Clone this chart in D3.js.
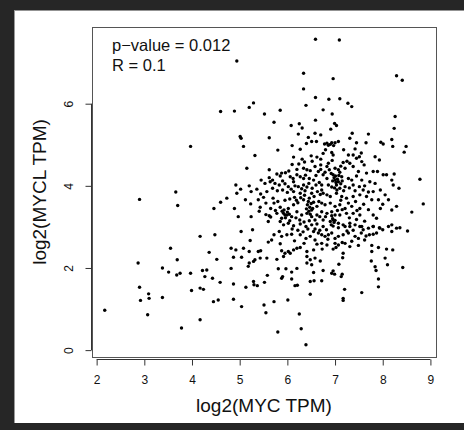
<!DOCTYPE html>
<html>
<head>
<meta charset="utf-8">
<script src="https://cdn.jsdelivr.net/npm/d3@7"></script>
<style>
  body { margin: 0; background: #262626; }
  svg { display: block; font-family: "Liberation Sans", Arial, sans-serif; }
</style>
</head>
<body>
<div id="chart"></div>
<script>
// MYC vs MYCL scatter (log2 TPM)

// points, [log2(MYC TPM), log2(MYCL TPM)]
const outerPts = [
  [2.17,0.97],[2.87,2.12],[2.90,3.67],[2.90,1.53],[2.92,1.21],[3.09,1.37],[3.10,1.26],[3.07,0.86],[3.38,1.28],[3.38,2.00],
  [3.55,2.48],[3.51,1.90],[3.66,3.85],[3.70,3.52],[3.69,2.20],[3.68,1.83],[3.75,1.87],[3.78,0.54],[3.97,4.96],[3.97,1.87],
  [3.99,1.45],[4.94,7.04],[6.34,6.74],[6.34,6.36],[6.59,7.57],[6.59,6.15],[6.96,6.61],[7.09,7.55],[7.10,6.12],[6.87,6.11],
  [8.29,6.68],[8.41,6.57]
];

const upperLeft = [
  [4.60,5.81],[4.89,5.82],[5.20,5.91],[5.29,6.02],[5.52,5.75],[5.85,5.84],[6.39,5.96],[5.72,5.55],[6.08,5.47],[6.25,5.51],
  [6.31,5.41],[6.59,5.60],[6.23,5.26],[6.44,5.18],[6.58,5.28],[5.01,5.20],[5.03,5.16],[5.62,5.17],[5.08,4.96],[5.80,4.87],
  [6.10,4.98],[6.27,4.89],[6.40,5.03],[6.51,5.08],[6.61,5.08],[5.32,4.74],[6.13,4.70],[6.31,4.65],[6.50,4.73],[6.62,4.70],
  [6.24,4.53],[6.34,4.43],[6.41,4.39],[6.48,4.37],[6.58,4.47],[6.65,4.35],[5.15,4.43],[5.62,4.39],[5.78,4.29],[5.88,4.31],
  [5.96,4.32],[6.03,4.36],[5.85,4.24],[6.06,4.22],[6.20,4.27],[6.27,4.22],[6.34,4.18],[5.45,4.14],[5.53,4.06],[5.64,4.10],
  [5.69,4.14],[5.74,4.06],[5.83,4.02],[5.95,4.05],[6.02,3.98],[6.13,4.10],[6.23,3.98],[6.34,4.02],[6.41,3.97],[6.55,4.14],
  [6.60,4.02],[4.92,4.02],[5.02,3.92],[5.20,4.00],[5.24,3.86],[5.36,3.92],[5.44,3.80],[5.57,3.86],[5.69,3.94],[5.79,3.88],
  [5.90,3.90],[6.00,3.84],[6.13,3.86],[6.27,3.82],[6.37,3.88],[6.51,3.82],[6.63,3.86],[4.73,3.70],[4.60,3.60],[4.46,3.45],
  [4.94,3.82],[5.12,3.66],[5.23,3.56],[5.39,3.66],[5.43,3.48],[5.55,3.58],[5.72,3.58],[5.85,3.48],[5.93,3.41],[6.02,3.45],
  [6.13,3.54],[6.22,3.59],[6.34,3.66],[6.42,3.54],[6.51,3.41],[6.62,3.50],[4.89,3.45],[5.41,3.38],[5.62,3.27],[5.65,3.24],
  [5.78,3.33],[5.88,3.21],[5.99,3.29],[6.09,3.25],[6.20,3.37],[6.30,3.29],[6.41,3.33],[6.51,3.25],[6.62,3.29],[4.97,3.25],
  [5.24,3.25],[5.60,3.13],[5.85,3.13],[5.92,3.05],[6.02,3.09],[6.13,3.03],[6.27,3.07],[6.39,3.01],[6.51,3.05],[6.62,3.07]
];

const upperRight = [
  [6.75,5.85],[6.94,5.75],[7.27,6.01],[7.35,5.93],[6.99,5.52],[7.03,5.47],[8.26,5.69],[8.24,5.40],[6.91,5.38],[6.70,5.24],
  [7.36,5.28],[7.31,5.16],[7.70,5.26],[6.83,5.04],[6.93,5.05],[7.00,5.05],[7.07,5.08],[7.45,5.05],[7.65,5.05],[7.96,5.06],
  [8.01,5.02],[8.19,5.13],[8.21,4.96],[8.49,4.96],[8.45,4.82],[6.75,4.79],[6.93,4.81],[6.96,4.75],[7.28,4.75],[7.38,4.75],
  [7.45,4.67],[7.51,4.71],[7.56,4.59],[7.61,4.51],[7.84,4.71],[7.93,4.63],[7.17,4.57],[7.31,4.55],[6.70,4.51],[6.83,4.47],
  [6.88,4.39],[7.00,4.43],[7.07,4.39],[7.21,4.43],[7.38,4.47],[7.49,4.35],[7.66,4.31],[7.80,4.35],[7.89,4.35],[8.01,4.27],
  [8.08,4.27],[8.24,4.29],[8.19,4.14],[8.22,4.02],[8.34,3.94],[8.78,4.16],[6.75,4.27],[6.83,4.18],[6.96,4.27],[7.00,4.14],
  [7.07,4.10],[7.14,4.22],[7.28,4.18],[7.35,4.14],[7.45,4.24],[7.56,4.14],[7.73,4.10],[7.84,4.06],[6.72,4.02],[6.86,4.02],
  [6.93,3.97],[7.03,4.02],[7.10,3.94],[7.21,3.98],[7.38,4.02],[7.51,3.98],[7.59,3.90],[7.80,3.86],[6.75,3.82],[6.83,3.78],
  [6.90,3.74],[7.03,3.82],[7.14,3.74],[7.24,3.70],[7.38,3.74],[7.52,3.78],[7.66,3.74],[7.77,3.66],[7.91,3.66],[8.05,3.78],
  [8.12,3.66],[8.29,3.50],[8.19,3.41],[8.61,3.36],[8.85,3.56],[6.72,3.58],[6.79,3.54],[6.90,3.58],[7.00,3.50],[7.10,3.54],
  [7.21,3.45],[7.35,3.50],[7.52,3.45],[6.72,3.37],[6.83,3.33],[6.93,3.37],[7.00,3.29],[7.10,3.29],[7.24,3.33],[7.38,3.33],
  [7.52,3.29],[7.80,3.29],[7.87,3.21],[6.75,3.17],[6.90,3.13],[6.96,3.17],[7.07,3.09],[7.17,3.05],[7.31,3.09],[7.42,3.05],
  [7.56,3.01],[7.80,3.01],[7.94,2.97],[8.19,3.05],[8.29,2.97]
];

const lowerLeft = [
  [4.17,2.77],[4.48,2.81],[5.03,2.89],[5.27,2.93],[5.83,2.89],[6.55,2.89],[6.65,2.85],[5.22,2.67],[5.60,2.63],[5.67,2.68],
  [5.72,2.81],[5.88,2.77],[5.99,2.81],[6.09,2.82],[6.27,2.81],[6.39,2.72],[6.48,2.77],[6.58,2.68],[4.36,2.38],[4.52,2.21],
  [4.82,2.48],[4.92,2.44],[5.08,2.48],[5.04,2.26],[4.87,2.26],[5.20,2.40],[5.39,2.40],[5.44,2.42],[5.85,2.59],[5.88,2.42],
  [5.95,2.36],[6.02,2.40],[6.13,2.44],[6.20,2.48],[6.27,2.50],[6.41,2.40],[6.55,2.44],[5.92,2.28],[6.06,2.36],[6.41,2.28],
  [6.48,2.20],[6.58,2.24],[5.29,2.16],[5.32,2.20],[5.18,2.04],[5.20,2.12],[5.43,2.24],[5.57,2.24],[5.78,2.21],[4.82,1.99],
  [4.22,1.94],[4.31,1.95],[4.27,1.79],[4.43,1.75],[4.59,1.65],[4.24,1.48],[4.17,1.51],[4.87,1.61],[5.13,1.53],[5.29,1.67],
  [5.30,1.59],[5.37,1.57],[5.52,1.65],[5.58,1.82],[5.81,1.98],[5.97,1.98],[5.90,1.79],[5.88,1.75],[6.09,1.90],[6.20,1.99],
  [6.41,2.12],[6.51,2.08],[6.55,1.89],[6.09,1.73],[6.16,1.57],[6.21,1.58],[6.48,1.67],[6.56,1.69],[6.48,1.36],[4.45,1.18],
  [4.55,1.22],[4.87,1.24],[5.04,1.06],[5.51,1.10],[5.55,0.91],[5.72,1.18],[6.01,1.22],[6.25,0.88],[5.80,0.44],[6.29,0.52],
  [6.39,0.13],[4.17,0.74]
];

const lowerRight = [
  [6.75,3.01],[6.96,3.02],[7.07,2.98],[7.21,3.01],[7.31,3.01],[7.52,3.01],[7.59,2.93],[7.70,2.97],[7.80,3.01],[7.93,2.98],
  [8.00,2.93],[8.12,3.01],[8.19,2.89],[8.36,2.98],[8.52,2.90],[6.72,2.81],[6.79,2.77],[6.86,2.81],[6.93,2.85],[7.00,2.72],
  [7.07,2.77],[7.17,2.81],[7.28,2.85],[7.42,2.77],[7.49,2.72],[7.62,2.68],[7.72,2.81],[7.80,2.82],[7.87,2.85],[6.72,2.60],
  [6.83,2.56],[6.96,2.46],[7.02,2.50],[7.07,2.56],[7.21,2.60],[7.31,2.52],[7.49,2.55],[7.77,2.55],[7.91,2.50],[7.77,2.40],
  [8.08,2.46],[8.21,2.44],[6.73,2.46],[6.69,2.17],[7.17,2.36],[7.16,2.25],[7.08,2.09],[7.76,2.17],[7.84,2.03],[8.05,2.24],
  [8.10,2.08],[8.42,2.01],[6.75,1.94],[6.72,1.69],[6.96,1.93],[6.93,1.87],[6.99,1.85],[7.15,1.85],[7.13,1.79],[7.86,1.94],
  [7.91,1.73],[7.91,1.54],[7.20,1.48],[7.17,1.26],[7.17,1.21],[7.56,1.40]
];

// the dark core, where marks overlap
const densePts = [
  [6.95,4.12],[6.98,4.20],[7.02,4.08],[7.05,4.16],[7.08,4.25],[7.12,4.05],[6.99,3.95],[7.04,3.90],[7.15,4.12],[6.92,4.30],
  [7.10,4.33],[7.01,4.24],[6.44,3.62],[6.47,3.48],[6.50,3.57],[6.45,3.38],[6.53,3.45],[6.40,3.44],[6.48,3.31],[6.55,3.60],
  [5.92,3.33],[5.96,3.22],[6.00,3.36],[5.95,3.29],[6.04,3.31],[5.89,3.38],[6.92,3.05],[6.95,3.20],[6.98,3.11],[6.93,3.27],
  [7.00,3.16],[6.78,5.02],[6.86,4.99],[6.90,5.01],[6.97,4.98],[6.15,3.72],[6.19,3.65],[6.28,3.71],[6.36,3.77],[6.46,3.70],
  [6.56,3.74],[6.66,3.62],[6.69,3.79],[6.08,3.92],[6.16,4.00],[6.30,3.93],[6.45,4.06],[6.52,3.94],[6.67,4.08],[6.72,3.90],
  [6.12,4.18],[6.38,4.26],[6.46,4.18],[6.60,4.25],[6.70,4.40],[6.79,4.33],[6.86,4.55],[6.94,4.62],[7.12,4.48],[7.25,4.60],
  [6.05,3.15],[6.18,3.22],[6.26,3.17],[6.35,3.12],[6.46,3.15],[6.58,3.17],[6.68,3.25],[6.80,3.25],[6.10,2.95],[6.22,2.92],
  [6.33,2.88],[6.43,2.95],[6.58,2.95],[6.68,2.92],[6.82,2.93],[7.05,3.40],[7.15,3.42],[7.28,3.58],[7.43,3.62],[7.46,3.40],
  [7.60,3.55],[7.70,3.42],[7.30,3.22],[7.45,3.18],[7.62,3.14],[7.12,3.65],[7.18,3.88],[7.30,3.95],[7.42,3.88],[7.62,4.00],
  [7.70,3.85],[7.95,3.90],[8.00,3.55],[7.95,3.45],[7.25,2.90],[7.38,2.92],[7.55,2.85],[7.65,2.78],[7.15,2.62],[7.35,2.65],
  [7.00,2.60],[6.85,2.70],[6.62,2.58],[6.35,2.60],[6.15,2.66],[5.70,3.70],[5.80,3.62],[5.95,3.65],[6.05,3.68],[5.65,3.45],
  [5.75,3.40],[5.55,3.30],[5.50,3.72],[5.62,4.20],[5.90,4.12],[6.20,4.40],[6.10,4.52],[6.36,4.58],[6.52,4.60],[6.70,4.65],
  [6.80,4.88],[7.18,4.88],[7.42,4.90],[7.55,4.80]
];

const points = [...outerPts, ...upperLeft, ...upperRight, ...lowerLeft, ...lowerRight, ...densePts];
const xTicks = [2, 3, 4, 5, 6, 7, 8, 9];
const yTicks = [0, 2, 4, 6];
const statLines = ["p\u2212value = 0.012", "R = 0.1"];

const width = 464,
    height = 430,
    margin = ({ top: 27, right: 28, bottom: 73, left: 92 });

const svg = d3.select("#chart")
    .append("svg")
    .attr("width", width)
    .attr("height", height);

// dark frame + white panel
svg.append("rect").attr("width", width).attr("height", height).attr("fill", "#262626");
svg.append("rect")
    .attr("x", 14).attr("y", 10.5)
    .attr("width", width - 14).attr("height", 423 - 10.5)
    .attr("fill", "#fff");
svg.append("line")
    .attr("x1", 14.5).attr("x2", 14.5).attr("y1", 10.5).attr("y2", 423)
    .attr("stroke", "#9a9a9a");

// R style limits: data range padded by 4%
function rLim(ext) {
    const pad = (ext[1] - ext[0]) * 0.04;
    return [ext[0] - pad, ext[1] + pad];
}

const x = d3.scaleLinear()
    .domain(rLim(d3.extent(points, d => d[0])))
    .range([margin.left, width - margin.right]);

const y = d3.scaleLinear()
    .domain(rLim(d3.extent(points, d => d[1])))
    .range([height - margin.bottom, margin.top]);

// plot box
svg.append("rect")
    .attr("x", margin.left + 0.5)
    .attr("y", margin.top + 0.5)
    .attr("width", width - margin.left - margin.right)
    .attr("height", height - margin.top - margin.bottom)
    .attr("fill", "none")
    .attr("stroke", "#555");

// x axis, line only from first to last tick
const xAxisY = height - margin.bottom + 2.5;
const gx = svg.append("g")
    .attr("transform", `translate(0,${xAxisY})`)
    .call(d3.axisBottom(x).tickValues(xTicks).tickSize(6).tickPadding(10).tickSizeOuter(0));
gx.select(".domain").remove();
gx.append("line")
    .attr("x1", x(xTicks[0])).attr("x2", x(xTicks[xTicks.length - 1]))
    .attr("stroke", "#333");
gx.selectAll(".tick line").attr("stroke", "#333");
gx.selectAll("text").attr("font-size", 12).attr("fill", "#111");

const yAxisX = margin.left - 0.5;
const gy = svg.append("g")
    .attr("transform", `translate(${yAxisX},0)`)
    .call(d3.axisLeft(y).tickValues(yTicks).tickSize(6).tickSizeOuter(0));
gy.select(".domain").remove();
gy.append("line")
    .attr("y1", y(yTicks[0])).attr("y2", y(yTicks[yTicks.length - 1]))
    .attr("stroke", "#333");
gy.selectAll(".tick line").attr("stroke", "#333");
gy.selectAll("text")
    .attr("x", null).attr("dy", null)
    .attr("transform", "translate(-19,0) rotate(-90)")
    .attr("text-anchor", "middle")
    .attr("font-size", 12)
    .attr("fill", "#111");

// points
svg.append("g")
    .selectAll("circle")
    .data(points)
    .join("circle")
    .attr("cx", d => x(d[0]))
    .attr("cy", d => y(d[1]))
    .attr("r", 1.7)
    .attr("fill", "#000");

// axis titles
svg.append("text")
    .attr("x", (margin.left + width - margin.right) / 2)
    .attr("y", 412)
    .attr("text-anchor", "middle")
    .attr("font-size", 19)
    .attr("fill", "#111")
    .text("log2(MYC TPM)");

svg.append("text")
    .attr("transform", `translate(46,${(margin.top + height - margin.bottom) / 2}) rotate(-90)`)
    .attr("text-anchor", "middle")
    .attr("font-size", 19)
    .attr("fill", "#111")
    .text("log2(MYCL TPM)");

// stats
svg.append("g")
    .selectAll("text")
    .data(statLines)
    .join("text")
    .attr("x", 112)
    .attr("y", (d, i) => 51 + i * 19.5)
    .attr("font-size", 16.5)
    .attr("fill", "#111")
    .text(d => d);
</script>
</body>
</html>
